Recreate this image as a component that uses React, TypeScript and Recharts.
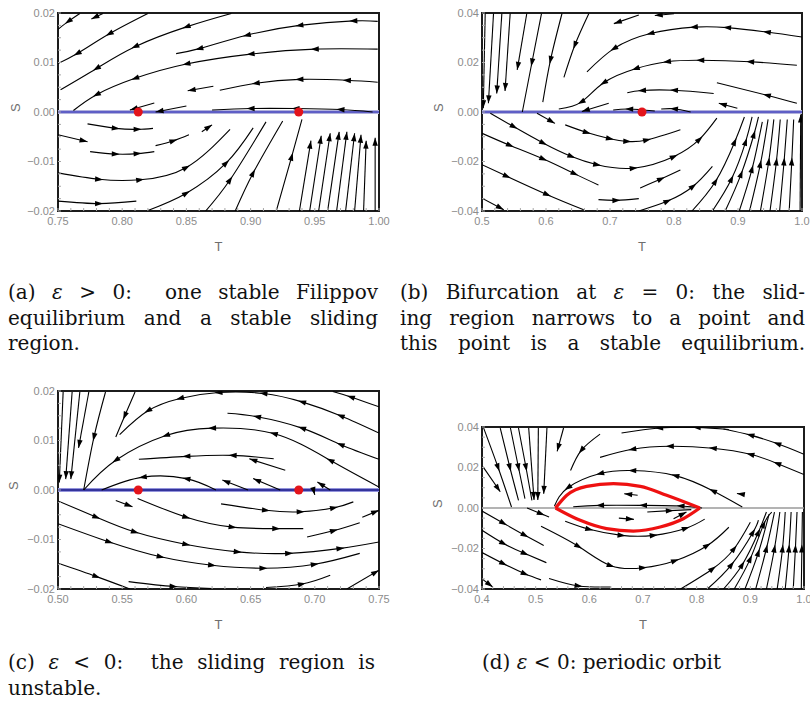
import React from 'react';
import { ComposedChart, Line, XAxis, YAxis, ReferenceLine, ReferenceArea, ReferenceDot } from 'recharts';

type Pt = [number, number];

// axis ticks
const tMajorA = [0.75, 0.8, 0.85, 0.9, 0.95, 1.0];
const tMajorB = [0.5, 0.6, 0.7, 0.8, 0.9, 1.0];
const tMajorC = [0.5, 0.55, 0.6, 0.65, 0.7, 0.75];
const tMajorD = [0.4, 0.5, 0.6, 0.7, 0.8, 0.9, 1.0];
const sMajorSmall = [-0.02, -0.01, 0, 0.01, 0.02];
const sMajorLarge = [-0.04, -0.02, 0, 0.02, 0.04];

// equilibria on the switching line
const equilibriaA: Pt[] = [[0.8125, 0], [0.9375, 0]];
const equilibriaB: Pt[] = [[0.75, 0]];
const equilibriaC: Pt[] = [[0.5625, 0], [0.6875, 0]];

// periodic orbit (d)
const orbitUpper: Pt[] = [[0.537, 0], [0.558, 0.0063], [0.595, 0.0107], [0.645, 0.012], [0.695, 0.0107], [0.744, 0.0063], [0.806, 0]];
const orbitLower: Pt[] = [[0.537, 0], [0.583, -0.0061], [0.632, -0.0102], [0.682, -0.0114], [0.732, -0.0094], [0.775, -0.0053], [0.806, 0]];

// streamlines, points in flow order
const streamsA: Pt[][] = [
  [[0.767, 0.0199], [0.758, 0.0183], [0.75, 0.0167]],
  [[0.785, 0.0199], [0.776, 0.0188]],
  [[0.82, 0.0199], [0.79, 0.0158], [0.765, 0.0118], [0.75, 0.0098]],
  [[0.885, 0.0199], [0.85, 0.0172], [0.81, 0.0132], [0.78, 0.0088], [0.752, 0.0045]],
  [[0.999, 0.0183], [0.98, 0.0184], [0.938, 0.0175], [0.897, 0.0155], [0.86, 0.0128], [0.842, 0.0118]],
  [[0.999, 0.0127], [0.95, 0.0127], [0.9, 0.0117], [0.85, 0.0097], [0.81, 0.0068], [0.78, 0.0035], [0.762, 0.0003]],
  [[0.999, 0.006], [0.975, 0.0064], [0.938, 0.0066], [0.904, 0.0058], [0.876, 0.0044]],
  [[0.871, 0.0052], [0.851, 0.0043]],
  [[0.995, 0.0], [0.97, 0.0005], [0.935, 0.0007], [0.9, 0.0007], [0.87, 0.0004]],
  [[0.85, 0.0012], [0.826, 0.0]],
  [[0.825, 0.0018], [0.806, 0.0004]],
  [[0.773, -0.0024], [0.795, -0.0033], [0.812, -0.0035], [0.824, -0.0033]],
  [[0.75, -0.0046], [0.773, -0.006]],
  [[0.775, -0.008], [0.795, -0.0085], [0.812, -0.0084], [0.825, -0.008]],
  [[0.826, -0.0068], [0.84, -0.0058], [0.852, -0.0046]],
  [[0.862, -0.004], [0.87, -0.0026]],
  [[0.75, -0.0123], [0.782, -0.0136], [0.814, -0.0137], [0.85, -0.0112], [0.884, -0.0035]],
  [[0.75, -0.018], [0.782, -0.0185], [0.811, -0.018]],
  [[0.819, -0.02], [0.85, -0.0164], [0.881, -0.0103], [0.902, -0.0032]],
  [[0.865, -0.02], [0.884, -0.0137], [0.912, -0.002]],
  [[0.888, -0.02], [0.902, -0.0123], [0.925, -0.0018]],
  [[0.92, -0.02], [0.932, -0.009], [0.94, -0.0015]],
  [[0.938, -0.02], [0.947, -0.0058]],
  [[0.946, -0.02], [0.955, -0.0048]],
  [[0.953, -0.02], [0.962, -0.0043]],
  [[0.96, -0.02], [0.969, -0.004]],
  [[0.967, -0.02], [0.975, -0.004]],
  [[0.974, -0.02], [0.981, -0.0043]],
  [[0.981, -0.02], [0.986, -0.0046]],
  [[0.988, -0.02], [0.99, -0.0058]],
  [[0.997, -0.02], [0.997, -0.0052]],
];

const streamsB: Pt[][] = [
  [[0.505, 0.0398], [0.502, 0.0015]],
  [[0.518, 0.0398], [0.51, 0.0035]],
  [[0.531, 0.0398], [0.523, 0.0075]],
  [[0.544, 0.0398], [0.536, 0.0085]],
  [[0.57, 0.0398], [0.555, 0.017]],
  [[0.593, 0.0398], [0.578, 0.02], [0.563, 0.0]],
  [[0.625, 0.0398], [0.607, 0.021], [0.595, 0.004]],
  [[0.667, 0.0398], [0.645, 0.027], [0.628, 0.014]],
  [[0.745, 0.0392], [0.706, 0.0357]],
  [[0.8, 0.0397], [0.77, 0.039]],
  [[1.0, 0.0303], [0.945, 0.0323], [0.883, 0.0341], [0.831, 0.0343], [0.763, 0.0317], [0.706, 0.0256], [0.664, 0.0162]],
  [[0.992, 0.0189], [0.919, 0.0203], [0.841, 0.0209], [0.789, 0.0203], [0.74, 0.0175], [0.69, 0.0118], [0.655, 0.004], [0.62, 0.0012]],
  [[0.992, 0.0035], [0.945, 0.0068], [0.867, 0.0118]],
  [[0.862, 0.0075], [0.8, 0.0088], [0.75, 0.0087], [0.727, 0.0078]],
  [[0.899, 0.0015], [0.87, 0.0035]],
  [[0.826, 0.0], [0.8, 0.0013], [0.78, 0.0012]],
  [[0.77, 0.0004], [0.73, 0.0012], [0.705, 0.0008]],
  [[0.698, 0.0035], [0.656, 0.0002]],
  [[0.513, -0.0005], [0.55, -0.006], [0.596, -0.0126], [0.64, -0.018], [0.68, -0.0213], [0.737, -0.0227], [0.8, -0.018], [0.84, -0.011], [0.867, -0.0025]],
  [[0.5, -0.0086], [0.544, -0.0135], [0.596, -0.019], [0.645, -0.025], [0.682, -0.0295]],
  [[0.5, -0.0213], [0.539, -0.026], [0.602, -0.0334], [0.659, -0.0395]],
  [[0.5, -0.0348], [0.534, -0.0395]],
  [[0.586, -0.0005], [0.614, -0.0046]],
  [[0.63, -0.0052], [0.664, -0.0083], [0.7, -0.0108], [0.727, -0.0119], [0.758, -0.0113], [0.81, -0.0072]],
  [[0.682, -0.0354], [0.71, -0.0357], [0.745, -0.035]],
  [[0.747, -0.0307], [0.78, -0.027], [0.81, -0.0234]],
  [[0.745, -0.04], [0.79, -0.036], [0.83, -0.03], [0.86, -0.022]],
  [[0.828, -0.04], [0.865, -0.028], [0.895, -0.012], [0.91, -0.002]],
  [[0.86, -0.04], [0.89, -0.027], [0.912, -0.012], [0.922, -0.002]],
  [[0.88, -0.04], [0.905, -0.025], [0.925, -0.009], [0.932, -0.002]],
  [[0.902, -0.04], [0.922, -0.023], [0.938, -0.004]],
  [[0.918, -0.04], [0.935, -0.021], [0.947, -0.003]],
  [[0.935, -0.04], [0.948, -0.02], [0.956, -0.003]],
  [[0.95, -0.04], [0.96, -0.02], [0.966, -0.003]],
  [[0.965, -0.04], [0.972, -0.02], [0.977, -0.003]],
  [[0.98, -0.04], [0.984, -0.02], [0.987, -0.003]],
  [[0.997, -0.04], [0.998, -0.001]],
];

const streamsC: Pt[][] = [
  [[0.504, 0.0198], [0.501, 0.0015]],
  [[0.511, 0.0198], [0.506, 0.0022]],
  [[0.517, 0.0198], [0.51, 0.0022]],
  [[0.524, 0.0198], [0.516, 0.0085]],
  [[0.537, 0.0198], [0.528, 0.0107], [0.52, 0.0]],
  [[0.56, 0.0198], [0.552, 0.015], [0.545, 0.0107]],
  [[0.75, 0.0168], [0.728, 0.0188], [0.714, 0.0199]],
  [[0.75, 0.0115], [0.72, 0.015], [0.69, 0.0178], [0.66, 0.0195], [0.625, 0.0197], [0.595, 0.0185], [0.57, 0.016], [0.548, 0.0112]],
  [[0.75, 0.0062], [0.72, 0.0092], [0.69, 0.0125], [0.655, 0.0148], [0.632, 0.0155]],
  [[0.75, 0.0006], [0.712, 0.006], [0.668, 0.0114], [0.62, 0.0125], [0.584, 0.011], [0.545, 0.006], [0.52, 0.0]],
  [[0.668, 0.0063], [0.636, 0.007], [0.6, 0.0068], [0.563, 0.0062]],
  [[0.623, 0.0], [0.6, 0.0023], [0.566, 0.0026], [0.534, 0.0]],
  [[0.648, 0.0], [0.628, 0.002]],
  [[0.673, 0.0], [0.652, 0.0023]],
  [[0.677, 0.004], [0.649, 0.0063]],
  [[0.712, 0.0], [0.702, 0.0016]],
  [[0.699, 0.0], [0.7, -0.001]],
  [[0.545, -0.0021], [0.558, -0.0034]],
  [[0.562, -0.0017], [0.6, -0.0055], [0.636, -0.0075], [0.67, -0.0078], [0.691, -0.0078]],
  [[0.627, -0.0028], [0.662, -0.0041], [0.689, -0.0044], [0.715, -0.0036], [0.73, -0.0024]],
  [[0.737, -0.0055], [0.75, -0.0041]],
  [[0.694, -0.0095], [0.715, -0.0082], [0.735, -0.0066]],
  [[0.5, -0.0022], [0.53, -0.0055], [0.56, -0.0085], [0.6, -0.011], [0.64, -0.0125], [0.68, -0.0128], [0.72, -0.0118], [0.75, -0.0105]],
  [[0.5, -0.0068], [0.54, -0.0105], [0.58, -0.0135], [0.62, -0.0152], [0.66, -0.0158], [0.7, -0.015], [0.735, -0.0128]],
  [[0.5, -0.0148], [0.53, -0.0175], [0.556, -0.02]],
  [[0.555, -0.0185], [0.59, -0.0195], [0.62, -0.0199]],
  [[0.662, -0.0197], [0.69, -0.019], [0.712, -0.0172]],
  [[0.725, -0.02], [0.75, -0.0162]],
];

const streamsD: Pt[][] = [
  [[0.403, 0.0395], [0.43, 0.02], [0.455, 0.0005]],
  [[0.402, 0.0203], [0.434, 0.008]],
  [[0.434, 0.0395], [0.452, 0.02], [0.468, 0.0038]],
  [[0.453, 0.0395], [0.468, 0.02], [0.48, 0.0046]],
  [[0.468, 0.0395], [0.482, 0.02], [0.493, 0.0038]],
  [[0.487, 0.0395], [0.497, 0.004]],
  [[0.505, 0.0395], [0.504, 0.004]],
  [[0.521, 0.0395], [0.515, 0.007]],
  [[0.552, 0.0395], [0.54, 0.028]],
  [[0.62, 0.0365], [0.585, 0.0285], [0.565, 0.0185]],
  [[1.0, 0.0265], [0.95, 0.0318], [0.9, 0.036], [0.85, 0.039]],
  [[0.86, 0.0388], [0.8, 0.0398], [0.73, 0.0395], [0.66, 0.037]],
  [[1.0, 0.0165], [0.95, 0.022], [0.9, 0.0265], [0.83, 0.0295], [0.75, 0.0305], [0.68, 0.029], [0.62, 0.025]],
  [[0.885, 0.0005], [0.83, 0.0085], [0.76, 0.016], [0.68, 0.0185], [0.62, 0.017], [0.56, 0.01], [0.535, 0.001]],
  [[0.885, 0.0068], [0.875, 0.0072]],
  [[0.69, 0.0063], [0.665, 0.007]],
  [[0.81, 0.0], [0.77, 0.001], [0.7, 0.0013], [0.62, 0.0013], [0.57, 0.0006]],
  [[0.655, -0.005], [0.683, -0.0056]],
  [[0.708, -0.002], [0.75, -0.0013], [0.79, -0.0008]],
  [[0.757, -0.0053], [0.781, -0.002]],
  [[0.4, -0.0015], [0.44, -0.0075], [0.48, -0.0135], [0.515, -0.0185]],
  [[0.4, -0.011], [0.44, -0.0175], [0.48, -0.0225], [0.52, -0.027]],
  [[0.4, -0.022], [0.44, -0.0275], [0.48, -0.0325], [0.51, -0.0355]],
  [[0.4, -0.035], [0.42, -0.039]],
  [[0.484, 0.0], [0.51, -0.0028], [0.525, -0.0045]],
  [[0.555, -0.0065], [0.6, -0.0105], [0.66, -0.0135], [0.72, -0.0135], [0.78, -0.01], [0.815, -0.0055]],
  [[0.51, -0.009], [0.58, -0.019], [0.64, -0.0285], [0.7, -0.0295], [0.76, -0.026], [0.82, -0.0185], [0.86, -0.0095]],
  [[0.525, -0.0348], [0.58, -0.0385], [0.64, -0.039]],
  [[0.77, -0.04], [0.83, -0.03], [0.87, -0.02], [0.9, -0.007]],
  [[0.82, -0.04], [0.865, -0.028], [0.905, -0.012], [0.915, -0.006]],
  [[0.85, -0.04], [0.885, -0.028], [0.915, -0.012], [0.93, -0.002]],
  [[0.87, -0.04], [0.9, -0.025], [0.925, -0.008], [0.94, -0.002]],
  [[0.89, -0.04], [0.915, -0.022], [0.935, -0.003]],
  [[0.91, -0.04], [0.93, -0.02], [0.945, -0.002]],
  [[0.93, -0.04], [0.945, -0.02], [0.955, -0.002]],
  [[0.95, -0.04], [0.96, -0.02], [0.965, -0.002]],
  [[0.965, -0.04], [0.972, -0.02], [0.976, -0.002]],
  [[0.98, -0.04], [0.984, -0.02], [0.987, -0.002]],
  [[0.995, -0.04], [0.996, -0.02], [0.997, -0.002]],
];

// captions, one entry per printed line; true = justified
const captionA: [string, boolean][] = [['(a) ε > 0:  one stable Filippov', true], ['equilibrium and a stable sliding', true], ['region.', false]];
const captionB: [string, boolean][] = [['(b) Bifurcation at ε = 0: the slid-', true], ['ing region narrows to a point and', true], ['this point is a stable equilibrium.', true]];
const captionC: [string, boolean][] = [['(c) ε < 0:  the sliding region is', true], ['unstable.', false]];
const captionD: [string, boolean][] = [['(d) ε < 0: periodic orbit', false]];

const SANS = '"Liberation Sans", Arial, sans-serif';
const SERIF = '"DejaVu Serif", "Liberation Serif", serif';

function withMinors(major: number[], sub: number) {
  const out: number[] = [];
  for (let i = 0; i < major.length - 1; i++) {
    const step = (major[i + 1] - major[i]) / sub;
    for (let k = 0; k < sub; k++) out.push(+(major[i] + k * step).toFixed(6));
  }
  out.push(major[major.length - 1]);
  return out;
}

function fmt(major: number[], dec: number) {
  return (v: number) => {
    if (!major.some((m) => Math.abs(m - v) < 1e-7)) return '';
    return v.toFixed(dec).replace('-', '\u2212').replace('\u22120.00', '0.00');
  };
}

function arrowDot(pts: Pt[], kx: number, ky: number) {
  return (p: any) => {
    const i = p.index;
    const n = pts.length;
    const end = n <= 2;
    const show = end ? i === n - 1 : i > 0 && i < n - 1;
    if (!show || p.cx == null) return <g key={`d${i}`} />;
    const a = pts[Math.max(0, i - 1)];
    const b = pts[Math.min(n - 1, i + 1)];
    const ang = (Math.atan2(-(b[1] - a[1]) * ky, (b[0] - a[0]) * kx) * 180) / Math.PI;
    const d = end ? 'M0,0 L-8,-2.7 L-8,2.7 Z' : 'M4,0 L-4,-2.7 L-4,2.7 Z';
    return <path key={`d${i}`} d={d} transform={`translate(${p.cx},${p.cy}) rotate(${ang})`} fill="#000" />;
  };
}

type PanelProps = {
  left: number; top: number; width: number; height: number; yw: number; mr: number; sOff: number;
  x0: number; x1: number; y0: number; y1: number;
  tMajor: number[]; sMajor: number[]; tDec: number;
  streams: Pt[][]; dots?: Pt[]; zero: 'blue' | 'dark' | 'gray'; orbit?: boolean;
};

function Panel(pr: PanelProps) {
  const mt = 13, xh = 49;
  const plotW = pr.width - pr.yw - pr.mr;
  const plotH = pr.height - mt - xh;
  const kx = plotW / (pr.x1 - pr.x0);
  const ky = plotH / (pr.y1 - pr.y0);
  const xt = withMinors(pr.tMajor, 5);
  const yt = withMinors(pr.sMajor, 4);
  const tickStyle = { fill: '#8c8c8c', fontSize: 11, fontFamily: SANS };
  const tl = { stroke: '#a8a8a8' };
  return (
    <div style={{ position: 'absolute', left: pr.left, top: pr.top }}>
      <ComposedChart width={pr.width} height={pr.height} margin={{ top: mt, right: pr.mr, bottom: 0, left: 0 }}>
        <XAxis dataKey="x" type="number" domain={[pr.x0, pr.x1]} allowDataOverflow ticks={xt} interval={0}
          tickFormatter={fmt(pr.tMajor, pr.tDec)} tickSize={-3} tickMargin={9} tick={tickStyle} tickLine={tl}
          axisLine={false} height={xh}
          label={{ value: 'T', position: 'insideBottom', offset: 9, fill: '#6e6e6e', fontSize: 13, fontFamily: SANS }} />
        <XAxis xAxisId="top" orientation="top" dataKey="x" type="number" domain={[pr.x0, pr.x1]} allowDataOverflow
          ticks={xt} interval={0} tick={false} tickSize={-3} tickLine={tl} axisLine={false} height={0} />
        <YAxis dataKey="y" type="number" domain={[pr.y0, pr.y1]} allowDataOverflow ticks={yt} interval={0}
          tickFormatter={fmt(pr.sMajor, 2)} tickSize={-3} tickMargin={6} tick={tickStyle} tickLine={tl}
          axisLine={false} width={pr.yw}
          label={{ value: 'S', angle: -90, position: 'insideLeft', offset: pr.sOff, fill: '#6e6e6e', fontSize: 13, fontFamily: SANS }} />
        <YAxis yAxisId="right" orientation="right" dataKey="y" type="number" domain={[pr.y0, pr.y1]} allowDataOverflow
          ticks={yt} interval={0} tick={false} tickSize={-3} tickLine={tl} axisLine={false} width={0} />
        {pr.zero === 'gray' ? (
          <ReferenceLine y={0} stroke="#9a9a9a" strokeWidth={1.3} />
        ) : (
          <ReferenceLine y={0} stroke={pr.zero === 'dark' ? '#9494dc' : '#b2b2dc'} strokeWidth={4} />
        )}
        {pr.zero !== 'gray' && <ReferenceLine y={0} stroke={pr.zero === 'dark' ? '#34349c' : '#5f5fc6'} strokeWidth={2} />}
        {pr.streams.map((s, i) => (
          <Line key={i} data={s.map(([x, y]) => ({ x, y }))} dataKey="y" type="natural" stroke="#000" strokeWidth={1.1}
            dot={arrowDot(s, kx, ky)} activeDot={false} isAnimationActive={false} legendType="none" />
        ))}
        {pr.orbit && [orbitUpper, orbitLower].map((o, i) => (
          <Line key={`o${i}`} data={o.map(([x, y]) => ({ x, y }))} dataKey="y" type="monotone" stroke="#ee1111"
            strokeWidth={3.2} dot={false} activeDot={false} isAnimationActive={false} legendType="none" />
        ))}
        {(pr.dots || []).map(([x, y], i) => (
          <ReferenceDot key={`r${i}`} x={x} y={y} r={4.5} fill="#e3141b" stroke="none" />
        ))}
        <ReferenceArea x1={pr.x0} x2={pr.x1} y1={pr.y0} y2={pr.y1} fill="none" stroke="#1c1c1c" strokeWidth={2} ifOverflow="visible" />
      </ComposedChart>
    </div>
  );
}

function Caption({ lines, left, top, width }: { lines: [string, boolean][]; left: number; top: number; width: number }) {
  return (
    <div style={{ position: 'absolute', left, top, width, fontFamily: SERIF, fontSize: 20, lineHeight: '25.5px', color: '#111' }}>
      {lines.map(([txt, just], i) => (
        <div key={i} style={{ textAlign: just ? 'justify' : 'left', textAlignLast: just ? 'justify' : 'left', whiteSpace: 'pre', height: 25.5 }}>
          {txt.split('ε').map((part, j) => (
            <React.Fragment key={j}>
              {j > 0 && <i>ε</i>}
              {part}
            </React.Fragment>
          ))}
        </div>
      ))}
    </div>
  );
}

export default function App() {
  return (
    <div style={{ position: 'absolute', left: 0, top: 0, width: 810, height: 702, background: '#fff', overflow: 'hidden' }}>
      <Panel left={0} top={0} width={400} height={260} yw={58} mr={21} sOff={15}
        x0={0.75} x1={1.0} y0={-0.02} y1={0.02} tMajor={tMajorA} sMajor={sMajorSmall} tDec={2}
        streams={streamsA} dots={equilibriaA} zero="blue" />
      <Panel left={400} top={0} width={410} height={260} yw={82} mr={8} sOff={38}
        x0={0.5} x1={1.0} y0={-0.04} y1={0.04} tMajor={tMajorB} sMajor={sMajorLarge} tDec={1}
        streams={streamsB} dots={equilibriaB} zero="blue" />
      <Panel left={0} top={378} width={400} height={260} yw={58} mr={21} sOff={13}
        x0={0.5} x1={0.75} y0={-0.02} y1={0.02} tMajor={tMajorC} sMajor={sMajorSmall} tDec={2}
        streams={streamsC} dots={equilibriaC} zero="dark" />
      <Panel left={400} top={414} width={410} height={224} yw={82} mr={6} sOff={37}
        x0={0.4} x1={1.0} y0={-0.04} y1={0.04} tMajor={tMajorD} sMajor={sMajorLarge} tDec={1}
        streams={streamsD} zero="gray" orbit />
      <Caption lines={captionA} left={8} top={280} width={370} />
      <Caption lines={captionB} left={400} top={280} width={405} />
      <Caption lines={captionC} left={8} top={650} width={367} />
      <Caption lines={captionD} left={482} top={650} width={320} />
    </div>
  );
}
